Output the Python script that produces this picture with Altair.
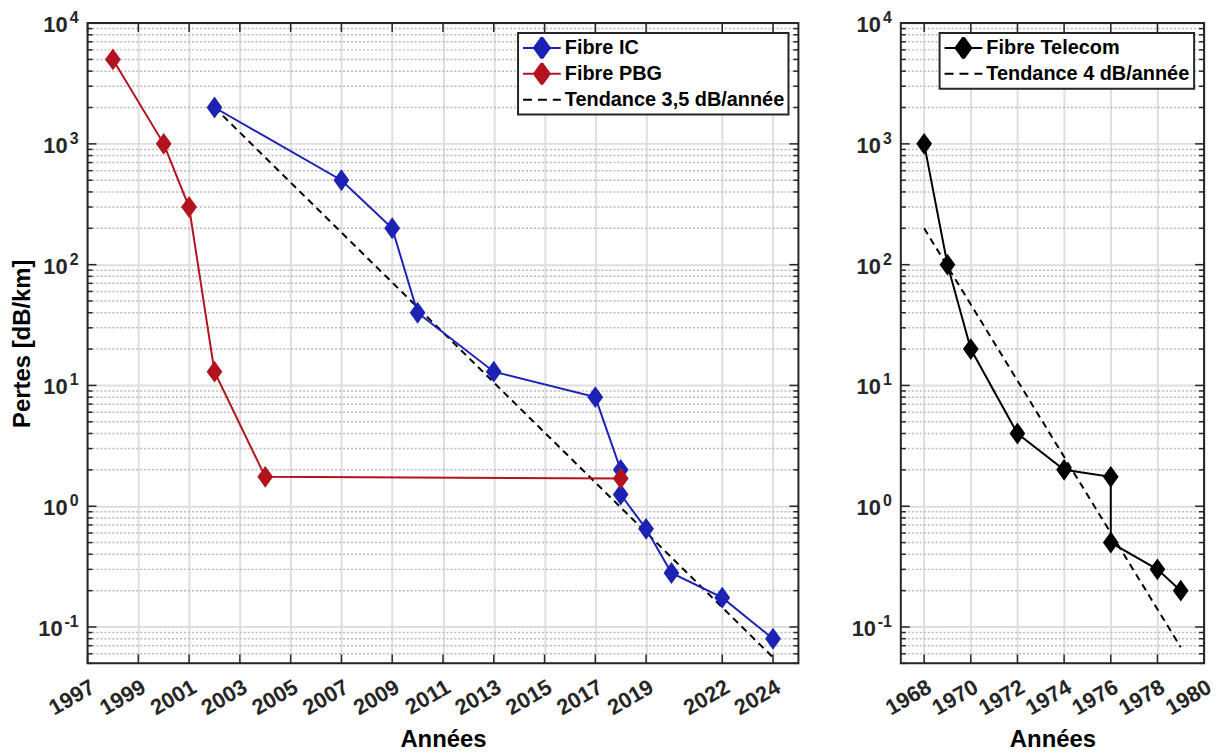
import altair as alt
import pandas as pd

FONT = "Liberation Sans"
AX = "#262626"
GRID = "#dedede"
MINOR = "#b9b9b9"
BLUE = "#1c22b4"
RED = "#b3131f"

# ---------------- data ----------------
ic_years = [2002, 2007, 2009, 2010, 2013, 2017, 2018, 2018, 2019, 2020, 2022, 2024]
ic_loss = [2000, 500, 200, 40, 13, 8, 2.0, 1.25, 0.65, 0.28, 0.175, 0.08]
pbg_years = [1998, 2000, 2001, 2002, 2004, 2018]
pbg_loss = [5000, 1000, 300, 13, 1.75, 1.7]
trend_left_years = [2002, 2024]
trend_left_loss = [2000, 0.056]

tel_years = [1968, 1969, 1970, 1972, 1974, 1976, 1976, 1978, 1979]
tel_loss = [1000, 100, 20, 4, 2, 1.75, 0.5, 0.3, 0.2]
trend_right_years = [1968, 1979]
trend_right_loss = [200, 0.068]

left_x_ticks = [1997, 1999, 2001, 2003, 2005, 2007, 2009, 2011, 2013, 2015, 2017, 2019, 2022, 2024]
right_x_ticks = [1968, 1970, 1972, 1974, 1976, 1978, 1980]
left_x_domain = [1997, 2025]
right_x_domain = [1967, 1980]
y_domain = [0.05, 10000]
y_major = [0.1, 1, 10, 100, 1000, 10000]
y_base = ["10", "10", "10", "10", "10", "10"]
y_exponents = ["-1", "0", "1", "2", "3", "4"]
y_minor = [round(m * 10.0 ** k, 6) for k in range(-2, 4) for m in range(2, 10)
           if 0.05 <= m * 10.0 ** k < 10000]

left_names = ["Fibre IC", "Fibre PBG", "Tendance 3,5 dB/année"]
right_names = ["Fibre Telecom", "Tendance 4 dB/année"]

LINE_DIAMOND = "M-1,0L1,0M0,-0.58L0.42,0L0,0.58L-0.42,0Z"
LINE_ONLY = "M-1,0L1,0"
DIAMOND = "M0,-1L0.72,0L0,1L-0.72,0Z"

H = 644
W_LEFT = 715
W_RIGHT = 305


def make_panel(series, trend_years, trend_loss, x_domain, x_ticks,
               legend_names, legend_colors, legend_shapes, legend_dashes, W, y_title):
    rows = []
    for name, yrs, vals, col in series:
        for i, (yy, vv) in enumerate(zip(yrs, vals)):
            rows.append({"year": yy, "loss": vv, "series": name, "idx": i})
    df = pd.DataFrame(rows)
    tdf = pd.DataFrame({"year": trend_years, "loss": trend_loss})

    xs = alt.Scale(domain=x_domain, nice=False, zero=False)
    ys = alt.Scale(type="log", domain=y_domain, nice=False)
    cscale = alt.Scale(domain=[s[0] for s in series], range=[s[3] for s in series])

    x_axis = alt.Axis(values=x_ticks, format="d", title="Années", labelAngle=-30,
                      labelAlign="right", labelBaseline="top", labelPadding=13,
                      ticks=False, domain=False, grid=True, gridColor=GRID,
                      gridWidth=2, titlePadding=9, labelFlush=False, labelOverlap=False)
    y_axis = alt.Axis(values=y_major, labels=False, title=y_title,
                      ticks=False, domain=False, grid=True, gridColor=GRID,
                      gridWidth=2, titlePadding=53)

    minor_grid = alt.Chart(pd.DataFrame({"v": y_minor})).mark_rule(
        color=MINOR, strokeWidth=1.5, strokeDash=[2, 2]
    ).encode(y=alt.Y("v:Q", scale=ys, axis=y_axis))

    xt = pd.DataFrame({"year": x_ticks})
    xtick_bottom = alt.Chart(xt).mark_rule(color=AX, strokeWidth=1.5).encode(
        x=alt.X("year:Q", scale=xs, axis=x_axis), y=alt.value(H - 9), y2=alt.value(H))
    xtick_top = alt.Chart(xt).mark_rule(color=AX, strokeWidth=1.5).encode(
        x=alt.X("year:Q", scale=xs), y=alt.value(0), y2=alt.value(9))

    ymaj = pd.DataFrame({"v": y_major, "b": y_base, "e": y_exponents})
    ymin = pd.DataFrame({"v": y_minor})
    ytick_l = alt.Chart(ymaj).mark_rule(color=AX, strokeWidth=1.5).encode(
        y=alt.Y("v:Q", scale=ys), x=alt.value(0), x2=alt.value(9))
    ytick_r = alt.Chart(ymaj).mark_rule(color=AX, strokeWidth=1.5).encode(
        y=alt.Y("v:Q", scale=ys), x=alt.value(W - 9), x2=alt.value(W))
    ymin_l = alt.Chart(ymin).mark_rule(color=AX, strokeWidth=1.5).encode(
        y=alt.Y("v:Q", scale=ys), x=alt.value(0), x2=alt.value(5))
    ymin_r = alt.Chart(ymin).mark_rule(color=AX, strokeWidth=1.5).encode(
        y=alt.Y("v:Q", scale=ys), x=alt.value(W - 5), x2=alt.value(W))

    # y tick labels written as 10 with a raised exponent
    txt = dict(baseline="middle", font=FONT, fontWeight="bold", color=AX, align="right")
    exps = alt.Chart(ymaj).mark_text(dy=-5, fontSize=16, **txt).encode(
        y=alt.Y("v:Q", scale=ys), x=alt.value(-9), text="e:N")
    base_pos = alt.Chart(ymaj).transform_filter("datum.v > 0.5").mark_text(
        dy=2, fontSize=22, **txt).encode(
        y=alt.Y("v:Q", scale=ys), x=alt.value(-20), text="b:N")
    base_neg = alt.Chart(ymaj).transform_filter("datum.v < 0.5").mark_text(
        dy=2, fontSize=22, **txt).encode(
        y=alt.Y("v:Q", scale=ys), x=alt.value(-25), text="b:N")

    lines = alt.Chart(df).mark_line(strokeWidth=2).encode(
        x=alt.X("year:Q", scale=xs), y=alt.Y("loss:Q", scale=ys),
        color=alt.Color("series:N", scale=cscale, legend=None),
        order=alt.Order("idx:Q"),
    )
    trend = alt.Chart(tdf).mark_line(color="black", strokeWidth=2, strokeDash=[7, 5]).encode(
        x=alt.X("year:Q", scale=xs), y=alt.Y("loss:Q", scale=ys),
    )
    points = alt.Chart(df).mark_point(shape=DIAMOND, filled=True, size=484, opacity=1).encode(
        x=alt.X("year:Q", scale=xs), y=alt.Y("loss:Q", scale=ys),
        color=alt.Color("series:N", scale=cscale, legend=None),
    )

    leg = alt.Legend(title=None, orient="top-right", offset=10, strokeColor=AX,
                     fillColor="white", padding=4, rowPadding=4, labelOffset=3,
                     symbolSize=1444, symbolStrokeWidth=2, symbolOpacity=1,
                     symbolFillColor="white", symbolStrokeColor="black",
                     clipHeight=22, labelFont=FONT, labelFontSize=20, labelLimit=500,
                     labelFontWeight="bold", labelColor="black")
    legend_layer = alt.Chart(pd.DataFrame({"series": legend_names})).transform_filter(
        "false"
    ).mark_point(filled=True, strokeWidth=2).encode(
        fill=alt.Fill("series:N", scale=alt.Scale(domain=legend_names, range=legend_colors), legend=leg),
        stroke=alt.Stroke("series:N", scale=alt.Scale(domain=legend_names, range=legend_colors), legend=leg),
        shape=alt.Shape("series:N", scale=alt.Scale(domain=legend_names, range=legend_shapes), legend=leg),
        strokeDash=alt.StrokeDash("series:N", scale=alt.Scale(domain=legend_names, range=legend_dashes), legend=leg),
    )

    frame = alt.Chart(pd.DataFrame({"a": [0]})).mark_rect(
        fillOpacity=0, stroke=AX, strokeWidth=2
    ).encode(x=alt.value(0), x2=alt.value(W), y=alt.value(0), y2=alt.value(H))

    return alt.layer(
        minor_grid, xtick_bottom, xtick_top, ytick_l, ytick_r, ymin_l, ymin_r,
        exps, base_pos, base_neg, trend, lines, points, frame, legend_layer,
    ).properties(width=W, height=H)


left = make_panel(
    [("Fibre IC", ic_years, ic_loss, BLUE), ("Fibre PBG", pbg_years, pbg_loss, RED)],
    trend_left_years, trend_left_loss, left_x_domain, left_x_ticks,
    left_names, [BLUE, RED, "black"], [LINE_DIAMOND, LINE_DIAMOND, LINE_ONLY],
    [[1, 0], [1, 0], [9, 6]], W_LEFT, "Pertes [dB/km]",
)
right = make_panel(
    [("Fibre Telecom", tel_years, tel_loss, "black")],
    trend_right_years, trend_right_loss, right_x_domain, right_x_ticks,
    right_names, ["black", "black"], [LINE_DIAMOND, LINE_ONLY],
    [[1, 0], [9, 6]], W_RIGHT, None,
)

chart = alt.hconcat(left, right, spacing=52).resolve_scale(
    color="independent", fill="independent", stroke="independent",
    shape="independent", strokeDash="independent",
).properties(
    padding={"left": 3, "top": 0, "right": 0, "bottom": 0}
).configure_view(
    strokeWidth=0
).configure_axis(
    labelFont=FONT, labelFontSize=22, labelFontWeight="bold", labelColor=AX,
    titleFont=FONT, titleFontSize=24, titleFontWeight="bold", titleColor="black",
).configure_legend(
    strokeWidth=2
)

chart.save("out.html", embed_options={"renderer": "svg", "actions": False})
